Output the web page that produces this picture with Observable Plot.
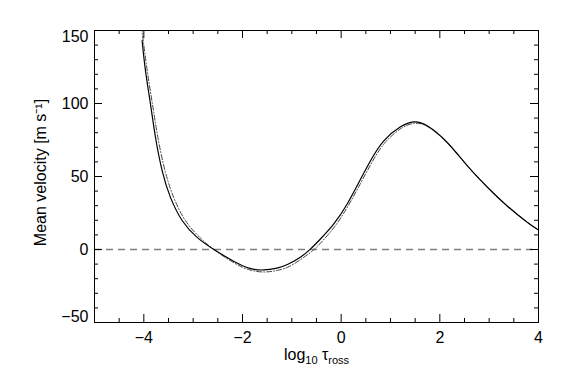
<!DOCTYPE html>
<html><head><meta charset="utf-8">
<script src="https://cdn.jsdelivr.net/npm/d3@7"></script>
<script src="https://cdn.jsdelivr.net/npm/@observablehq/plot@0.6"></script>
<style>body{margin:0;background:#fff}</style>
</head><body><div id="chart"></div>
<script>
// Solid curve
const solidX = [-4.035, -3.966, -3.865, -3.763, -3.628, -3.46, -3.22, -2.92, -2.58, -2.18, -1.85, -1.57, -1.3, -1.09, -0.82, -0.62, -0.42, -0.149, 0.122, 0.358, 0.595, 0.865, 1.203, 1.473, 1.744, 2.15, 2.555, 2.96, 3.366, 3.77, 4.0];
const solidY = [143, 122.3, 99.5, 76.7, 53.9, 35.7, 19.7, 8.3, 0, -8.0, -12.9, -14.0, -12.7, -10.3, -5.1, 0.4, 7.2, 17.5, 31.2, 45.9, 60.8, 74.4, 84.0, 87.4, 84.7, 73.3, 57.4, 42.8, 29.8, 18.7, 13.4];
// Dash-dot curve
const dashX = [-4.05, -3.93, -3.825, -3.715, -3.57, -3.395, -3.155, -2.865, -2.58, -2.18, -1.85, -1.55, -1.28, -1.05, -0.78, -0.55, -0.38, -0.12, 0.14, 0.38, 0.62, 0.89, 1.22, 1.48, 1.75, 2.15, 2.555, 2.96, 3.366, 3.77, 4.0];
const dashY = [153, 122.3, 99.5, 76.7, 53.9, 35.7, 19.7, 8.3, 0, -9.0, -14.0, -15.4, -14.2, -11.6, -5.9, 0, 5.8, 16.2, 29.8, 44.5, 59.5, 73.2, 83.0, 86.4, 84.2, 73.0, 57.4, 42.8, 29.8, 18.7, 13.4];
// Reference line
const zeroLine = [0];
// Ticks
const xMajorTicks = [-4, -2, 0, 2, 4];
const xMinorTicks = [-4.5, -3.5, -3, -2.5, -1.5, -1, -0.5, 0.5, 1, 1.5, 2.5, 3, 3.5];
const yMajorTicks = [-50, 0, 50, 100, 150];
const yMinorTicks = [-40, -30, -20, -10, 10, 20, 30, 40, 60, 70, 80, 90, 110, 120, 130, 140];
const yLabelsMid = [0, 50, 100];
const yLabelTop = [150];
const yLabelBottom = [-50];
const yTitle = "Mean velocity [m s⁻¹]";

const solid = solidX.map((x, i) => ({x, y: solidY[i]}));
const dashdot = dashX.map((x, i) => ({x, y: dashY[i]}));

const W = 566, H = 382, ML = 94, MR = 28, MT = 30, MB = 60;
const IW = W - ML - MR, IH = H - MT - MB;
const MAJ = 8, MIN = 4;

const plot = Plot.plot({
  width: W, height: H,
  marginLeft: ML, marginRight: MR, marginTop: MT, marginBottom: MB,
  x: {domain: [-5, 4]},
  y: {domain: [-50, 150]},
  style: {fontFamily: "'Liberation Sans', Arial, sans-serif", fontSize: "16px", color: "#000", background: "#fff"},
  marks: [
    Plot.ruleY(zeroLine, {y: d => d, stroke: "#808080", strokeWidth: 1.3, strokeDasharray: "7,5"}),
    Plot.line(dashdot, {x: "x", y: "y", stroke: "#444", strokeWidth: 1, strokeDasharray: "5,2,1,2", curve: "natural", clip: true}),
    Plot.line(solid, {x: "x", y: "y", stroke: "#000", strokeWidth: 1.2, curve: "natural", clip: true}),
    // tick marks, inward on all four sides
    Plot.tickX(xMajorTicks, {x: d => d, insetTop: IH - MAJ, stroke: "#000"}),
    Plot.tickX(xMinorTicks, {x: d => d, insetTop: IH - MIN, stroke: "#000"}),
    Plot.tickX(xMajorTicks, {x: d => d, insetBottom: IH - MAJ, stroke: "#000"}),
    Plot.tickX(xMinorTicks, {x: d => d, insetBottom: IH - MIN, stroke: "#000"}),
    Plot.tickY(yMajorTicks, {y: d => d, insetRight: IW - MAJ, stroke: "#000"}),
    Plot.tickY(yMinorTicks, {y: d => d, insetRight: IW - MIN, stroke: "#000"}),
    Plot.tickY(yMajorTicks, {y: d => d, insetLeft: IW - MAJ, stroke: "#000"}),
    Plot.tickY(yMinorTicks, {y: d => d, insetLeft: IW - MIN, stroke: "#000"}),
    // tick labels
    Plot.axisX(xMajorTicks, {anchor: "bottom", tickSize: 0, tickPadding: 9, label: null}),
    Plot.axisY(yLabelsMid, {anchor: "left", tickSize: 0, tickPadding: 6, label: null}),
    Plot.axisY(yLabelTop, {anchor: "left", tickSize: 0, tickPadding: 6, label: null, dy: 6}),
    Plot.axisY(yLabelBottom, {anchor: "left", tickSize: 0, tickPadding: 6, label: null, dy: -6}),
    Plot.frame({stroke: "#000", strokeWidth: 1}),
    Plot.text([yTitle], {text: d => d, frameAnchor: "left", textAnchor: "middle", lineAnchor: "middle", dx: -54, dy: -4, rotate: -90, fontSize: 16}),
    Plot.text(["XTITLE"], {text: d => d, frameAnchor: "bottom", textAnchor: "middle", lineAnchor: "middle", dy: 32, fontSize: 16})
  ]
});

// subscripts for the x title
d3.select(plot).selectAll("text").filter(function() { return this.textContent === "XTITLE"; })
  .each(function() {
    const t = d3.select(this);
    t.text(null);
    t.append("tspan").text("log");
    t.append("tspan").attr("font-size", 11).attr("dy", 4).text("10");
    t.append("tspan").attr("dy", -4).text(" τ");
    t.append("tspan").attr("font-size", 11).attr("dy", 4).text("ross");
  });

document.getElementById("chart").append(plot);
</script>
</body></html>
